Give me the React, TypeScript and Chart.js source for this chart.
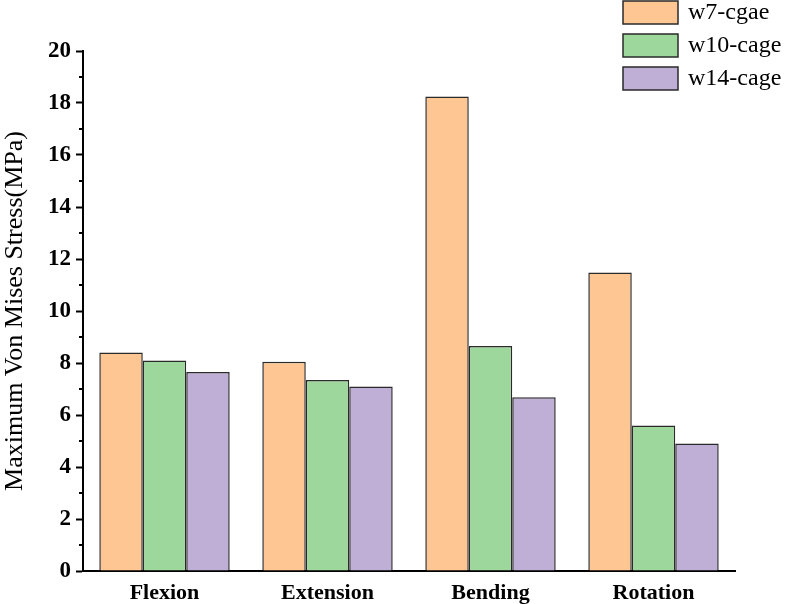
import React, { useEffect, useRef } from 'react';
import { Chart, registerables } from 'chart.js';

Chart.register(...registerables);

const categories = ['Flexion', 'Extension', 'Bending', 'Rotation'];
const seriesNames = ['w7-cgae', 'w10-cage', 'w14-cage'];
const w7Values = [8.4, 8.05, 18.25, 11.48];
const w10Values = [8.1, 7.35, 8.65, 5.6];
const w14Values = [7.65, 7.1, 6.68, 4.9];
const seriesColors = ['#fdc692', '#9ed79b', '#bfaed5'];
const minorTicks = [1, 3, 5, 7, 9, 11, 13, 15, 17, 19];

const SERIF = '"Liberation Serif", "Times New Roman", serif';

// minor ticks on the y axis (Chart.js has no minor ticks of its own)
const minorTickPlugin = {
  id: 'minorTicks',
  afterDraw(chart: any) {
    const y = chart.scales.y;
    const ctx = chart.ctx;
    ctx.save();
    ctx.strokeStyle = '#000';
    ctx.lineWidth = 2;
    minorTicks.forEach((v) => {
      const py = y.getPixelForValue(v);
      ctx.beginPath();
      ctx.moveTo(y.right - 4, py);
      ctx.lineTo(y.right, py);
      ctx.stroke();
    });
    ctx.restore();
  },
};

// stacked legend in the top right corner
const boxLegendPlugin = {
  id: 'boxLegend',
  afterDraw(chart: any) {
    const ctx = chart.ctx;
    ctx.save();
    ctx.font = `24px ${SERIF}`;
    ctx.textBaseline = 'middle';
    chart.data.datasets.forEach((ds: any, i: number) => {
      const top = 1 + i * 33;
      ctx.fillStyle = ds.backgroundColor;
      ctx.fillRect(623, top, 55, 23);
      ctx.strokeStyle = '#2a2a2a';
      ctx.lineWidth = 1.5;
      ctx.strokeRect(623, top, 55, 23);
      ctx.fillStyle = '#000';
      ctx.fillText(ds.label, 688, top + 12);
    });
    ctx.restore();
  },
};

const App: React.FC = () => {
  const canvasRef = useRef<HTMLCanvasElement>(null);
  const chartRef = useRef<Chart | null>(null);

  useEffect(() => {
    document.body.style.margin = '0';
    if (!canvasRef.current) return;

    if (chartRef.current) {
      chartRef.current.destroy();
    }

    const ctx = canvasRef.current.getContext('2d');
    if (!ctx) return;

    const values = [w7Values, w10Values, w14Values];

    chartRef.current = new Chart(ctx, {
      type: 'bar',
      data: {
        labels: categories,
        datasets: seriesNames.map((name, i) => ({
          label: name,
          data: values[i],
          backgroundColor: seriesColors[i],
          borderColor: '#2a2a2a',
          borderWidth: 1.5,
          categoryPercentage: 0.8,
          barPercentage: 1.0,
        })),
      },
      options: {
        responsive: true,
        maintainAspectRatio: false,
        animation: false,
        layout: {
          padding: { top: 51, right: 52, left: 0, bottom: 0 },
        },
        plugins: {
          legend: { display: false },
          tooltip: { enabled: false },
        },
        scales: {
          x: {
            grid: { display: false },
            border: { display: true, color: '#000', width: 2 },
            ticks: {
              color: '#000',
              padding: 3,
              font: { family: SERIF, size: 22, weight: 'bold', lineHeight: 1.0 },
            },
            afterFit: (scale: any) => {
              scale.height = 33;
            },
          },
          y: {
            min: 0,
            max: 20,
            grid: {
              display: true,
              drawOnChartArea: false,
              drawTicks: true,
              tickLength: 7,
              tickWidth: 2,
              tickColor: '#000',
            },
            border: { display: true, color: '#000', width: 2 },
            ticks: {
              stepSize: 2,
              color: '#000',
              padding: 5,
              font: { family: SERIF, size: 23, weight: 'bold' },
            },
            title: {
              display: true,
              text: 'Maximum Von Mises Stress(MPa)',
              color: '#000',
              padding: 0,
              font: { family: SERIF, size: 26 },
            },
            afterFit: (scale: any) => {
              scale.width = 83;
            },
          },
        },
      },
      plugins: [minorTickPlugin, boxLegendPlugin],
    });

    return () => {
      if (chartRef.current) {
        chartRef.current.destroy();
        chartRef.current = null;
      }
    };
  }, []);

  return (
    <div style={{ width: '787px', height: '604px', position: 'relative' }}>
      <canvas ref={canvasRef} />
    </div>
  );
};

export default App;
